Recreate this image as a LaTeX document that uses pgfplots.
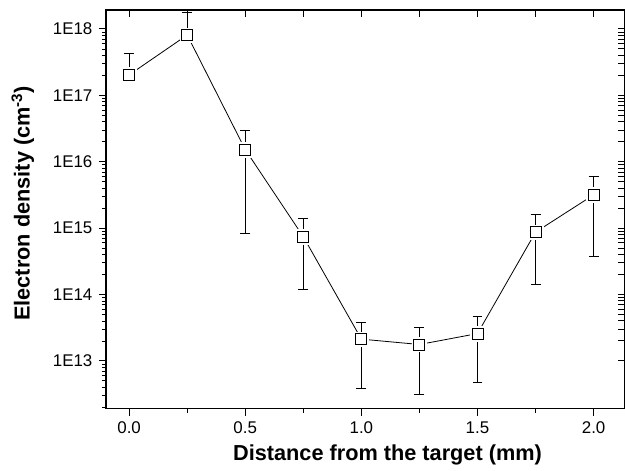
\documentclass[border=0pt]{standalone}
\usepackage{fontspec}
\setmainfont{Liberation Sans}
\usepackage{pgfplots}
\usepackage{pgfplotstable}
\pgfplotsset{compat=1.18}

% distance (mm), density (cm^-3), error up, error down
\pgfplotstableread{
x     y        ep       em
0.00  2.03e17  2.27e17  0
0.25  8.1e17   9.7e17   0
0.50  1.52e16  1.45e16  1.436e16
0.75  7.4e14   6.4e14   6.19e14
1.00  2.12e13  1.66e13  1.742e13
1.25  1.76e13  1.40e13  1.445e13
1.50  2.57e13  2.07e13  2.10e13
1.75  8.67e14  7.13e14  7.27e14
2.00  3.16e15  2.74e15  2.78e15
}\density

\begin{document}
\begin{tikzpicture}
\begin{axis}[name=ax,
    scale only axis, width=519bp, height=399bp,
    xmin=-0.1, xmax=2.133,
    ymode=log, ymin=1.9e12, ymax=1.93e18,
    xtick={0,0.5,1,1.5,2}, minor x tick num=1,
    ytick={1e13,1e14,1e15,1e16,1e17,1e18},
    minor ytick={2e12,3e12,4e12,5e12,6e12,7e12,8e12,9e12,
                 2e13,3e13,4e13,5e13,6e13,7e13,8e13,9e13,
                 2e14,3e14,4e14,5e14,6e14,7e14,8e14,9e14,
                 2e15,3e15,4e15,5e15,6e15,7e15,8e15,9e15,
                 2e16,3e16,4e16,5e16,6e16,7e16,8e16,9e16,
                 2e17,3e17,4e17,5e17,6e17,7e17,8e17,9e17},
    major tick length=7bp, minor tick length=4bp,
    axis line style={line width=1.2bp},
    tick style={black, line width=0.9bp},
    minor tick style={black, line width=0.6bp},
    tick align=outside, xtick pos=bottom, ytick pos=left,
    xticklabels={0.0,0.5,1.0,1.5,2.0},
    yticklabels={1E13,1E14,1E15,1E16,1E17,1E18},
    tick label style={font=\fontsize{17}{20}\selectfont},
    xticklabel style={yshift=-3bp},
    yticklabel style={xshift=-3bp},
    xlabel={Distance from the target (mm)},
    ylabel={Electron density (cm\textsuperscript{-3})},
    label style={font=\fontsize{21.8}{26}\selectfont\bfseries},
    xlabel style={at={(axis description cs:0.543,-0.117)}, anchor=center},
    ylabel style={at={(axis description cs:-0.16,0.515)}, anchor=center},
]
% connecting line
\addplot[black, line width=0.8bp, mark=none] table[x=x, y=y] {\density};
% white halo leaves a gap between line and markers
\addplot[only marks, mark=square*, mark size=7.2bp,
    mark options={fill=white, draw=white}] table[x=x, y=y] {\density};
% error bars
\addplot[only marks, mark=none, black,
    error bars/.cd, y dir=both, y explicit,
    error mark options={rotate=90, mark size=5bp, line width=0.8bp},
    error bar style={line width=0.8bp}]
    table[x=x, y=y, y error plus=ep, y error minus=em] {\density};
% markers
\addplot[only marks, mark=square*, mark size=5.5bp,
    mark options={fill=white, draw=black, line width=0.9bp}] table[x=x, y=y] {\density};
\end{axis}
\begin{axis}[
    scale only axis, width=519bp, height=399bp,
    xmin=-0.1, xmax=2.133,
    ymode=log, ymin=1.9e12, ymax=1.93e18,
    xtick={0,0.5,1,1.5,2}, minor x tick num=1,
    ytick={1e13,1e14,1e15,1e16,1e17,1e18},
    major tick length=7bp, minor tick length=7bp,
    axis line style={line width=1.2bp},
    tick style={black, line width=0.9bp},
    tick align=inside, xtick pos=top, ytick pos=right,
    xticklabels={}, yticklabels={}]
\end{axis}
\pgfresetboundingbox
\path ([shift={(-106bp,-62bp)}]ax.south west) rectangle ([shift={(0.5bp,10bp)}]ax.north east);
\end{tikzpicture}
\end{document}
